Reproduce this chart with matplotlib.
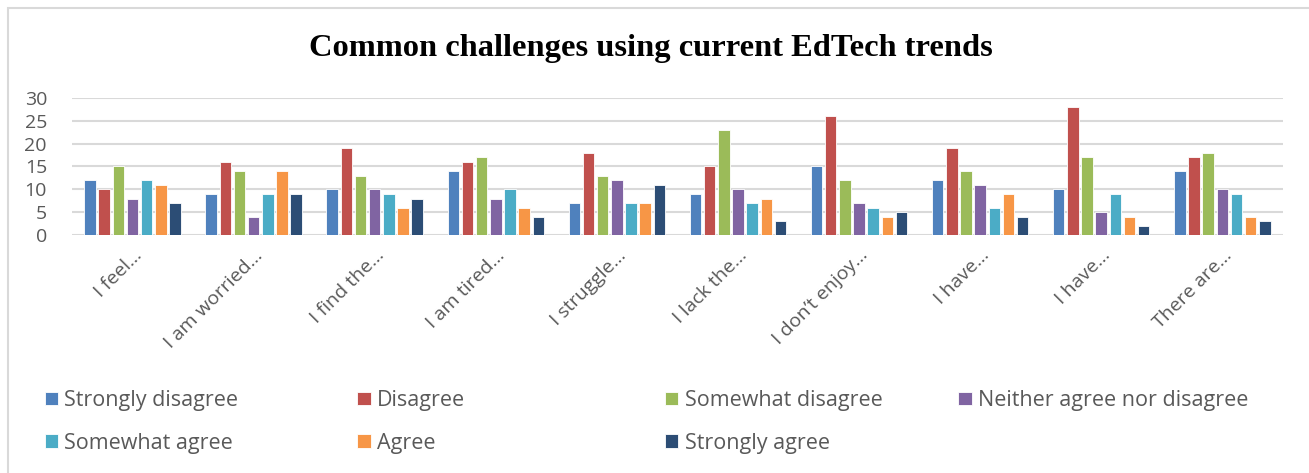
import matplotlib.pyplot as plt
import numpy as np
from matplotlib.patches import Rectangle

categories = ['I feel...', 'I am worried...', 'I find the...', 'I am tired...', 'I struggle...',
              'I lack the...', 'I don\u2019t enjoy...', 'I have...', 'I have...', 'There are...']
series_names = ['Strongly disagree', 'Disagree', 'Somewhat disagree', 'Neither agree nor disagree',
                'Somewhat agree', 'Agree', 'Strongly agree']

strongly_disagree = [12, 9, 10, 14, 7, 9, 15, 12, 10, 14]
disagree = [10, 16, 19, 16, 18, 15, 26, 19, 28, 17]
somewhat_disagree = [15, 14, 13, 17, 13, 23, 12, 14, 17, 18]
neither = [8, 4, 10, 8, 12, 10, 7, 11, 5, 10]
somewhat_agree = [12, 9, 9, 10, 7, 7, 6, 6, 9, 9]
agree = [11, 14, 6, 6, 7, 8, 4, 9, 4, 4]
strongly_agree = [7, 9, 8, 4, 11, 3, 5, 4, 2, 3]

series = [strongly_disagree, disagree, somewhat_disagree, neither,
          somewhat_agree, agree, strongly_agree]
colors = ['#4F81BD', '#C0504D', '#9BBB59', '#8064A2', '#4BACC6', '#F79646', '#2C4D75']

plt.rcParams['font.family'] = ['Open Sans', 'DejaVu Sans']

fig = plt.figure(figsize=(13.09, 4.73), dpi=100)
ax = fig.add_axes([0.055, 0.503, 0.925, 0.290])

x = np.arange(len(categories))
step = 0.117
width = 0.095
handles = []
for i, (vals, c, name) in enumerate(zip(series, colors, series_names)):
    b = ax.bar(x + (i - 3) * step, vals, width=width, color=c, edgecolor='white',
               linewidth=0.6, label=name, zorder=3)
    handles.append(b)

ax.set_xlim(-0.5, len(categories) - 0.5)
ax.set_ylim(0, 30)
ax.set_yticks(range(0, 31, 5))
ax.yaxis.grid(True, color='#D9D9D9', linewidth=1.5, zorder=0)
for s in ax.spines.values():
    s.set_visible(False)
ax.tick_params(axis='both', length=0, labelsize=14, labelcolor='#595959')
ax.tick_params(axis='y', pad=18)
ax.set_xticks(x)
ax.set_xticklabels(categories, rotation=45, ha='right', rotation_mode='anchor')
ax.tick_params(axis='x', pad=8)

fig.text(0.497, 0.897, 'Common challenges using current EdTech trends', ha='center', va='center',
         fontsize=23.4, fontweight='bold', family='Liberation Serif')

# legend: four columns, equal spacing like the original
col_x = [0.034, 0.273, 0.508, 0.732]
for j in range(4):
    idx = [k for k in (j, j + 4) if k < len(handles)]
    fig.legend([handles[k] for k in idx], [series_names[k] for k in idx],
               loc='upper left', bbox_to_anchor=(col_x[j], 0.175),
               frameon=False, fontsize=15.5, labelcolor='#595959',
               handlelength=0.62, handleheight=0.6, handletextpad=0.3,
               labelspacing=1.0, borderaxespad=0, borderpad=0)

fig.patches.append(Rectangle((8 / 1309, -0.1), 1.2, 1.0 - 8 / 473 + 0.1, transform=fig.transFigure,
                             fill=False, edgecolor='#D9D9D9', linewidth=1.5))

fig.savefig('out.png', dpi=100)
